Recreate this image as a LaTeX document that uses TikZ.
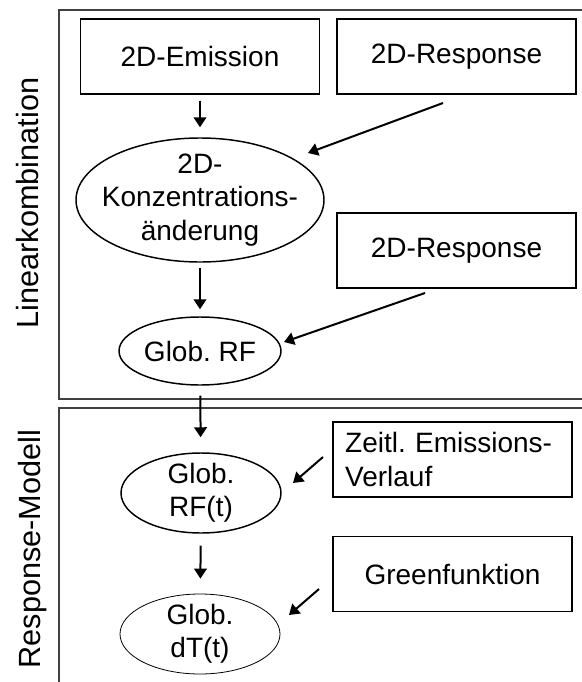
\documentclass[tikz,border=0pt]{standalone}
\usepackage{fontspec}
\setmainfont{Liberation Sans}
\usetikzlibrary{arrows.meta,shapes.geometric}
\frenchspacing

\begin{document}
\begin{tikzpicture}[x=0.75pt,y=-0.75pt,font=\fontsize{21}{25}\selectfont,
  box/.style={draw,line width=1.1pt,minimum width=179pt,minimum height=56pt,inner sep=0pt},
  oval/.style={draw,ellipse,line width=1.1pt,inner sep=-20pt,align=center},
  flow/.style={line width=1.5pt,-{Triangle[length=7.5pt,width=9.5pt]}},
  panel/.style={line width=0.9pt,draw=black!75},
  side/.style={rotate=90,anchor=base,font=\fontsize{23}{27}\selectfont}]
  \path[use as bounding box] (0,0) rectangle (582,682);
  \draw[panel] (582,10) -- (59,10) -- (59,399) -- (582,399);
  \draw[panel] (582,408) -- (59,408) -- (59,682);
  \node[side] (lin) at (38,203) {Linearkombination};
  \node[side] (respmod) at (40,549) {Response-Modell};
  \node[box] (emis) at (200,56.5) {2D-Emission};
  \node[box] (resp1) at (456.5,56.5) {2D-Response};
  \node[oval,minimum width=186pt,minimum height=93pt] (konz) at (200,200) {2D-\\Konzentrations-\\änderung};
  \node[box] (resp2) at (456.5,250.5) {2D-Response};
  \node[oval,minimum width=121.5pt,minimum height=51pt] (rf) at (200,351) {Glob. RF};
  \node[box,text width=161pt,align=left] (zeitl) at (452.5,459.5) {Zeitl. Emissions-\\Verlauf};
  \node[oval,minimum width=120pt,minimum height=60pt] (rft) at (201,493) {Glob.\\RF(t)};
  \node[box] (green) at (452.5,574) {Greenfunktion};
  \node[oval,line width=0.6pt,minimum width=120pt,minimum height=60pt] (dt) at (200,634) {Glob.\\dT(t)};
  \coordinate (r1a) at (443,103);
  \coordinate (r1b) at (308,153);
  \coordinate (r2a) at (425,293);
  \coordinate (r2b) at (284,342);
  \coordinate (za) at (323,457);
  \coordinate (zb) at (293,483);
  \coordinate (ga) at (319,589);
  \coordinate (gb) at (289,615);
  \draw[flow,shorten <=4.5pt,shorten >=7.5pt] (emis) -- (konz);
  \draw[flow,shorten <=3.75pt,shorten >=5.25pt] (konz) -- (rf);
  \draw[flow,shorten <=7.5pt,shorten >=11.25pt] (rf) -- (rft);
  \draw[flow,shorten <=9pt,shorten >=11.25pt] (rft) -- (dt);
  \draw[flow] (r1a) -- (r1b);
  \draw[flow] (r2a) -- (r2b);
  \draw[flow] (za) -- (zb);
  \draw[flow] (ga) -- (gb);
\end{tikzpicture}
\end{document}
